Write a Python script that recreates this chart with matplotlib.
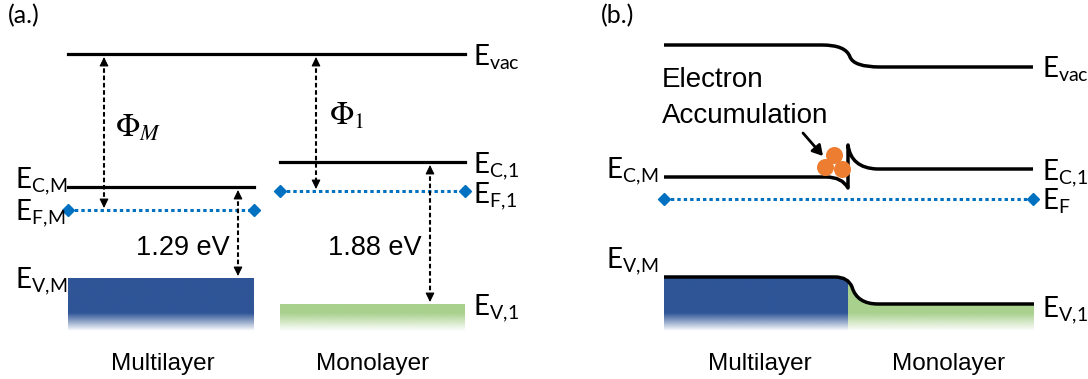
import matplotlib
matplotlib.use('Agg')
import matplotlib.pyplot as plt
import numpy as np
from matplotlib.colors import to_rgb
from matplotlib.patches import PathPatch
from matplotlib.path import Path

plt.rcParams['mathtext.fontset'] = 'custom'
plt.rcParams['mathtext.rm'] = 'Lato'
plt.rcParams['mathtext.it'] = 'Lato:italic'

# schematic band diagram, positions in pixels from the top-left corner
layers = ['Multilayer', 'Monolayer']
band_colors = ['#2F5597', '#A9D18E']
ef_color = '#0070C0'

# panel (a): flat bands of the two separate layers
a_x0 = [68, 280]
a_x1 = [254, 465]
a_evac = 54
a_ec = [187, 162]
a_ef = [210, 191]
a_ev = [278, 304]
a_gap_text = ['1.29 eV', '1.88 eV']
a_gap_x = [238, 430]
a_phi_text = [r'$\Phi_M$', r'$\Phi_1$']
a_phi_x = [104, 316]
a_phi_label_x = [115, 329]
a_phi_label_y = [137, 125]
a_label_x = [163, 373]

# panel (b): bent bands of the junction (vertex lists, Q = quadratic bezier)
b_evac = [(664, 45), (822, 45), (846, 45), (850, 57), (854, 67), (880, 67), (1033, 67)]
b_evac_codes = 'MLQQQQL'
b_ec = [(664, 177), (826, 177), (842, 177), (848, 188), (848, 145), (851, 168), (877, 169), (1033, 169)]
b_ec_codes = 'MLQQLQQL'
b_ev = [(664, 277), (835, 277), (848, 277), (852, 287), (857, 304), (878, 304), (1034, 304)]
b_ev_codes = 'MLQQQQL'
b_ef = 199
b_ef_x = [664, 1033]
b_split = 848
b_label_x = [760, 949]
electrons_x = [834, 825, 842]
electrons_y = [155, 167, 169]

FADE_START, FADE_END = 313, 331
CODES = {'M': Path.MOVETO, 'L': Path.LINETO, 'Q': Path.CURVE3}

fig = plt.figure(figsize=(10.88, 3.79), dpi=100)
ax = fig.add_axes([0, 0, 1, 1])


def e_label(x, y, sub, ha='left'):
    sub = sub.replace(',', r',\!')  # mathtext pads commas, take it back
    ax.text(x, y, r'E$_\mathrm{%s}$' % sub, fontfamily='Lato', fontsize=20,
            va='baseline', ha=ha, math_fontfamily='custom')


def faded_fill(x0, x1, top, color, clip=None):
    ys = np.linspace(top, FADE_END, 300)
    rgba = np.zeros((len(ys), 1, 4))
    rgba[..., :3] = to_rgb(color)
    rgba[:, 0, 3] = np.clip((FADE_END - ys) / (FADE_END - FADE_START), 0, 1)
    im = ax.imshow(rgba, extent=(x0, x1, top, FADE_END), origin='lower',
                   aspect='auto', interpolation='bilinear', zorder=1)
    if clip is not None:
        im.set_clip_path(clip)


def double_arrow(x, y0, y1):
    ax.plot([x, x], [y0 + 4, y1 - 4], color='k', lw=1.5, ls=(0, (2.2, 1.3)), zorder=3)
    for tip, base in ((y0, y0 + 8), (y1, y1 - 8)):
        ax.annotate('', xy=(x, tip), xytext=(x, base),
                    arrowprops=dict(arrowstyle='-|>,head_length=0.55,head_width=0.27',
                                    color='k', lw=0.8, shrinkA=0, shrinkB=0), zorder=3)


def ef_line(x0, x1, y):
    ax.plot([x0, x1], [y, y], color=ef_color, lw=2.2, ls=(0, (1.1, 1.0)), zorder=2)
    ax.plot([x0, x1], [y, y], ls='none', marker='D', ms=6, color=ef_color, zorder=2)


def band_path(pts, codes):
    return Path(pts, [CODES[c] for c in codes])


# ---------------- panel (a) ----------------
ax.text(8, 23, '(a.)', fontfamily='Lato', fontsize=18, va='baseline')
ax.plot([a_x0[0], a_x1[1]], [a_evac, a_evac], color='k', lw=2.3)
for i in range(2):
    ax.plot([a_x0[i], a_x1[i]], [a_ec[i], a_ec[i]], color='k', lw=2.3)
    ef_line(a_x0[i], a_x1[i], a_ef[i])
    faded_fill(a_x0[i], a_x1[i], a_ev[i], band_colors[i])
    double_arrow(a_phi_x[i], a_evac + 3, a_ef[i] - 2)
    double_arrow(a_gap_x[i], a_ec[i] + 3, a_ev[i] - 2)
    ax.text(a_gap_x[i] - 8, 255, a_gap_text[i], fontfamily='Liberation Sans',
            fontsize=19.5, ha='right', va='baseline')
    ax.text(a_phi_label_x[i], a_phi_label_y[i], a_phi_text[i], fontsize=23,
            va='baseline', math_fontfamily='stix')
    ax.text(a_label_x[i], 370, layers[i], fontfamily='Liberation Sans',
            fontsize=17.5, ha='center', va='baseline')

e_label(473, a_evac + 11, 'vac')
e_label(473, a_ec[1] + 11, 'C,1')
e_label(473, a_ef[1] + 12, 'F,1')
e_label(473, a_ev[1] + 11, 'V,1')
e_label(15, a_ec[0] + 1, 'C,M')
e_label(15, a_ef[0] + 10, 'F,M')
e_label(15, a_ev[0] + 10, 'V,M')

# ---------------- panel (b) ----------------
ax.text(601, 23, '(b.)', fontfamily='Lato', fontsize=18, va='baseline')
ev_path = band_path(b_ev, b_ev_codes)
fill_path = Path(list(ev_path.vertices) + [(b_ev[-1][0], FADE_END), (b_ev[0][0], FADE_END), b_ev[0]],
                 list(ev_path.codes) + [Path.LINETO, Path.LINETO, Path.CLOSEPOLY])
clip = PathPatch(fill_path, transform=ax.transData)
faded_fill(b_ev[0][0], b_split, b_ev[0][1], band_colors[0], clip)
faded_fill(b_split, b_ev[-1][0], b_ev[0][1], band_colors[1], clip)

for pts, codes in ((b_evac, b_evac_codes), (b_ec, b_ec_codes), (b_ev, b_ev_codes)):
    ax.add_patch(PathPatch(band_path(pts, codes), fill=False, lw=2.5, ec='k',
                           capstyle='butt', joinstyle='round', zorder=3))
ef_line(b_ef_x[0], b_ef_x[1], b_ef)
ax.scatter(electrons_x, electrons_y, s=150, color='#ED7D31', lw=0, zorder=4)
ax.annotate('', xy=(823, 156), xytext=(803, 133),
            arrowprops=dict(arrowstyle='-|>,head_length=0.6,head_width=0.35',
                            color='k', lw=2, shrinkA=0, shrinkB=0))
ax.text(662, 87, 'Electron', fontfamily='Liberation Sans', fontsize=20, va='baseline')
ax.text(662, 123, 'Accumulation', fontfamily='Liberation Sans', fontsize=20, va='baseline')

e_label(1042, b_evac[-1][1] + 11, 'vac')
e_label(1042, b_ec[-1][1] + 11, 'C,1')
e_label(1042, b_ef + 11, 'F')
e_label(1042, b_ev[-1][1] + 13, 'V,1')
e_label(606, b_ec[0][1] + 1, 'C,M')
e_label(606, b_ev[0][1] - 9, 'V,M')
for i in range(2):
    ax.text(b_label_x[i], 370, layers[i], fontfamily='Liberation Sans',
            fontsize=17.5, ha='center', va='baseline')

ax.set_xlim(0, 1088)
ax.set_ylim(379, 0)
ax.axis('off')
fig.savefig('out.png', dpi=100)
